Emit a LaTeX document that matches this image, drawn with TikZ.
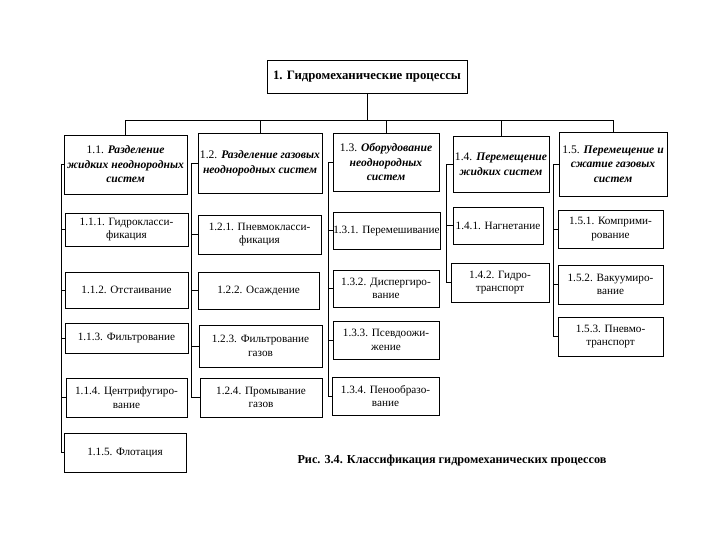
\documentclass[tikz,border=0pt]{standalone}
\usepackage{fontspec}
\setmainfont{Liberation Serif}
\usetikzlibrary{positioning}
\tikzset{
  rootbox/.style={draw, rectangle, align=center, inner sep=1pt,
    font=\bfseries\fontsize{12.8}{15}\selectfont},
  headbox/.style={draw, rectangle, align=center, inner sep=0.5pt,
    font=\fontsize{11.6}{14.5}\selectfont},
  itembox/.style={draw, rectangle, align=center, inner sep=0.5pt,
    font=\fontsize{11.2}{13.5}\selectfont},
  every path/.style={line width=0.6pt}
}
\newcommand{\hd}[1]{\textbf{\textit{#1}}}

\begin{document}
\begin{tikzpicture}[x=1pt, y=-1pt]
\useasboundingbox (0,0) rectangle (720,540);

\node[rootbox, minimum width=200, minimum height=33] (root) at (367,76.5) {1. Гидромеханические процессы};

% group heads
\node[headbox, minimum width=123, minimum height=59] (h11) at (125.5,164.5)
  {1.1. \hd{Разделение}\\\hd{жидких неоднородных}\\\hd{систем}};
\node[headbox, minimum width=124, minimum height=60] (h12) at (260,163)
  {1.2. \hd{Разделение газовых}\\\hd{неоднородных систем}};
\node[headbox, minimum width=106, minimum height=58] (h13) at (386,162)
  {1.3. \hd{Оборудование}\\\hd{неоднородных}\\\hd{систем}};
\node[headbox, minimum width=96, minimum height=56] (h14) at (501,164)
  {1.4. \hd{Перемещение}\\\hd{жидких систем}};
\node[headbox, minimum width=108, minimum height=64] (h15) at (613,164)
  {1.5. \hd{Перемещение и}\\\hd{сжатие газовых}\\\hd{систем}};

% column 1
\node[itembox, minimum width=123, minimum height=33] (c111) at (126.5,229.5) {1.1.1. Гидрокласси-\\фикация};
\node[itembox, minimum width=123, minimum height=36] (c112) at (126.5,290) {1.1.2. Отстаивание};
\node[itembox, minimum width=123, minimum height=30] (c113) at (126.5,338) {1.1.3. Фильтрование};
\node[itembox, minimum width=121, minimum height=39] (c114) at (126.5,397.5) {1.1.4. Центрифугиро-\\вание};
\node[itembox, minimum width=122, minimum height=39] (c115) at (125,452.5) {1.1.5. Флотация};

% column 2
\node[itembox, minimum width=123, minimum height=39] (c121) at (259.5,234.5) {1.2.1. Пневмокласси-\\фикация};
\node[itembox, minimum width=121, minimum height=37] (c122) at (258.5,290.5) {1.2.2. Осаждение};
\node[itembox, minimum width=123, minimum height=42] (c123) at (260.5,346) {1.2.3. Фильтрование\\газов};
\node[itembox, minimum width=122, minimum height=39] (c124) at (261,397.5) {1.2.4. Промывание\\газов};

% column 3
\node[itembox, minimum width=107, minimum height=37] (c131) at (386.5,230.5) {1.3.1. Перемешивание};
\node[itembox, minimum width=106, minimum height=37] (c132) at (386,288.5) {1.3.2. Диспергиро-\\вание};
\node[itembox, minimum width=106, minimum height=38] (c133) at (386,340) {1.3.3. Псевдоожи-\\жение};
\node[itembox, minimum width=107, minimum height=38] (c134) at (385.5,396) {1.3.4. Пенообразо-\\вание};

% column 4
\node[itembox, minimum width=90, minimum height=37] (c141) at (498,225.5) {1.4.1. Нагнетание};
\node[itembox, minimum width=98, minimum height=39] (c142) at (500,282.5) {1.4.2. Гидро-\\транспорт};

% column 5
\node[itembox, minimum width=105, minimum height=38] (c151) at (610.5,229) {1.5.1. Комприми-\\рование};
\node[itembox, minimum width=105, minimum height=39] (c152) at (610.5,284.5) {1.5.2. Вакуумиро-\\вание};
\node[itembox, minimum width=105, minimum height=39] (c153) at (610.5,336.5) {1.5.3. Пневмо-\\транспорт};

\node[font=\bfseries\fontsize{12.2}{14}\selectfont] (cap) at (452,461)
  {Рис. 3.4. Классификация гидромеханических процессов};

% tree
\coordinate (bar) at (367,120);
\draw (root.south) -- (root.south |- bar);
\draw (h11.north) -- (h11.north |- bar) -- (h15.north |- bar) -- (h15.north);
\foreach \n in {h12,h13,h14}
  \draw (\n.north) -- (\n.north |- bar);

\coordinate (bus1) at (61,0);
\coordinate (bus2) at (191,0);
\coordinate (bus3) at (328,0);
\coordinate (bus4) at (446,0);
\coordinate (bus5) at (553,0);

\draw (h11.west) -- (bus1 |- h11.west) -- (bus1 |- c115.west);
\draw (h12.west) -- (bus2 |- h12.west) -- (bus2 |- c124.west);
\draw (h13.west) -- (bus3 |- h13.west) -- (bus3 |- c134.west);
\draw (h14.west) -- (bus4 |- h14.west) -- (bus4 |- c142.west);
\draw (h15.west) -- (bus5 |- h15.west) -- (bus5 |- c153.west);

\foreach \c/\b in {c111/bus1,c112/bus1,c113/bus1,c114/bus1,c115/bus1,
    c121/bus2,c122/bus2,c123/bus2,c124/bus2,
    c131/bus3,c132/bus3,c133/bus3,c134/bus3,
    c141/bus4,c142/bus4,c151/bus5,c152/bus5,c153/bus5}
  \draw (\c.west) -- (\b |- \c.west);

\end{tikzpicture}
\end{document}
